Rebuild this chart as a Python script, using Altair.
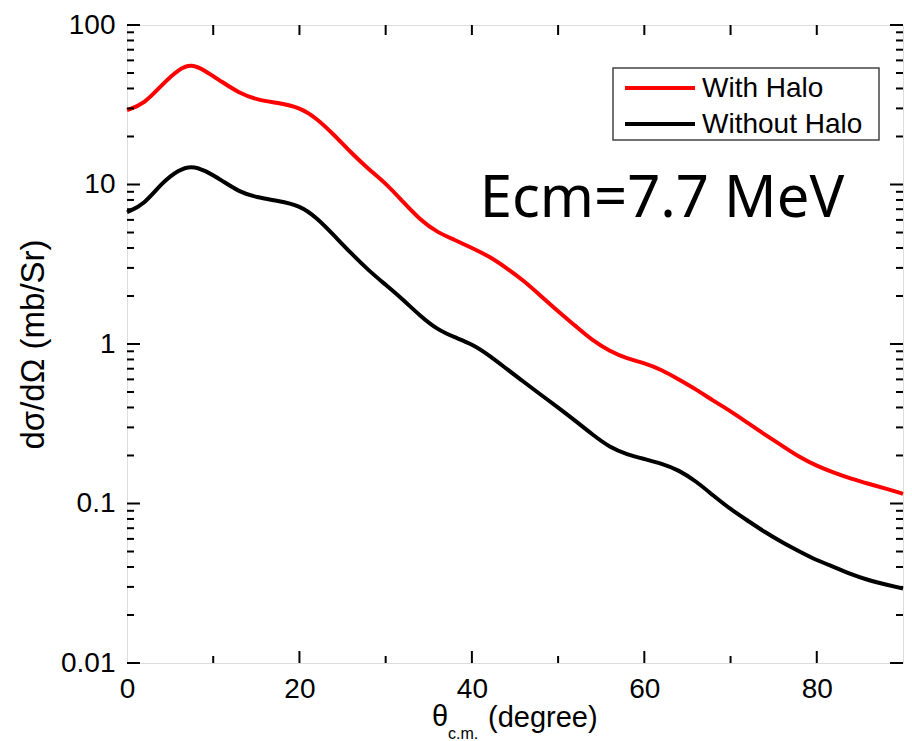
import altair as alt
import pandas as pd

# Angles (degrees, c.m.)
theta = [0, 2, 4, 6, 7.5, 9, 11, 13, 15, 17.5, 20, 22, 24, 26, 28, 30, 32, 34, 36, 38,
         40, 42, 44, 46, 48, 50, 52, 54, 56, 58, 60, 62, 64, 66, 68, 70, 72, 74, 76, 78,
         80, 82, 84, 86, 88, 90]

with_halo = [29.3, 32, 42, 53, 57, 52, 44, 37.5, 34, 32.5, 30.5, 26, 20.5, 15.8, 12.5, 10.2,
             7.8, 6.0, 5.0, 4.5, 4.0, 3.55, 3.0, 2.5, 2.0, 1.6, 1.3, 1.05, 0.9, 0.81,
             0.76, 0.69, 0.6, 0.52, 0.44, 0.38, 0.32, 0.27, 0.23, 0.195, 0.172, 0.156,
             0.143, 0.133, 0.124, 0.115]

without_halo = [6.7, 7.5, 10.2, 12.4, 13.1, 12.3, 10.6, 9.0, 8.3, 7.9, 7.4, 6.2, 4.8, 3.7,
                2.9, 2.35, 1.9, 1.5, 1.23, 1.1, 1.0, 0.85, 0.7, 0.58, 0.48, 0.4, 0.33,
                0.27, 0.225, 0.203, 0.19, 0.178, 0.162, 0.138, 0.112, 0.092, 0.078, 0.066,
                0.057, 0.05, 0.044, 0.04, 0.036, 0.033, 0.031, 0.0293]

series_names = ["With Halo", "Without Halo"]
series_colors = ["#ff0000", "#000000"]

y_major = [0.01, 0.1, 1, 10, 100]
y_minor = [m * d for d in [0.01, 0.1, 1, 10] for m in range(2, 10)]
x_major = [20, 40, 60, 80]
x_minor = [10, 30, 50, 70]

W, H = 776, 638

rows = []
for name, vals in zip(series_names, [with_halo, without_halo]):
    for t, v in zip(theta, vals):
        rows.append({"theta": t, "value": v, "series": name})
df = pd.DataFrame(rows)

xscale = alt.Scale(domain=[0, 90], nice=False, zero=False)
yscale = alt.Scale(type="log", domain=[0.01, 100], nice=False)

lines = alt.Chart(df).mark_line(strokeWidth=4, interpolate="basis").encode(
    x=alt.X("theta:Q", scale=xscale,
            axis=alt.Axis(title=None, values=[0, 20, 40, 60, 80], ticks=False, domain=False,
                          grid=False, labelFontSize=28, labelPadding=12, labelColor="#000",
                          labelFont="Liberation Sans", labelFlush=False)),
    y=alt.Y("value:Q", scale=yscale,
            axis=alt.Axis(title="dσ/dΩ (mb/Sr)", values=y_major, format="~g", ticks=False,
                          domain=False, grid=False, labelFontSize=28, labelPadding=12,
                          labelColor="#000", labelFont="Liberation Sans",
                          titleFont="Liberation Sans", titleFontSize=33,
                          titleFontWeight="normal", titleColor="#000", titlePadding=10)),
    color=alt.Color("series:N", scale=alt.Scale(domain=series_names, range=series_colors),
                    legend=None),
)

ymaj_df = pd.DataFrame({"v": y_major})
ymin_df = pd.DataFrame({"v": y_minor})
xmaj_df = pd.DataFrame({"v": x_major})
xmin_df = pd.DataFrame({"v": x_minor})

def ytick(data, length, side):
    if side == "left":
        xs = dict(x=alt.value(0), x2=alt.value(length))
    else:
        xs = dict(x=alt.value(W - length), x2=alt.value(W))
    return alt.Chart(data).mark_rule(color="black", strokeWidth=2).encode(
        y=alt.Y("v:Q", scale=yscale), **xs)

def xtick(data, length, side):
    if side == "bottom":
        ys = dict(y=alt.value(H - length), y2=alt.value(H))
    else:
        ys = dict(y=alt.value(0), y2=alt.value(length))
    return alt.Chart(data).mark_rule(color="black", strokeWidth=2).encode(
        x=alt.X("v:Q", scale=xscale), **ys)

ticks = [ytick(ymaj_df, 13, "left"), ytick(ymin_df, 7, "left"),
         ytick(ymaj_df, 13, "right"), ytick(ymin_df, 7, "right"),
         xtick(xmaj_df, 12, "bottom"), xtick(xmin_df, 7, "bottom"),
         xtick(xmaj_df, 10, "top"), xtick(xmin_df, 10, "top")]

# Legend (drawn as marks, box at top-right of the plot)
LX, LY = 486, 43
box = alt.Chart(pd.DataFrame({"a": [0]})).mark_rect(
    fill="white", stroke="#444", strokeWidth=1.5).encode(
    x=alt.value(LX), x2=alt.value(LX + 266), y=alt.value(LY), y2=alt.value(LY + 72))
legend_layers = [box]
for i, (name, col) in enumerate(zip(series_names, series_colors)):
    row_y = LY + 20 + 36 * i
    d = pd.DataFrame({"t": [name]})
    legend_layers.append(alt.Chart(d).mark_rule(color=col, strokeWidth=4).encode(
        x=alt.value(LX + 12), x2=alt.value(LX + 82), y=alt.value(row_y)))
    legend_layers.append(alt.Chart(d).mark_text(
        align="left", baseline="middle", fontSize=28, font="Liberation Sans",
        color="black").encode(x=alt.value(LX + 89), y=alt.value(row_y + 1), text="t:N"))

annot_df = pd.DataFrame({"x": [40.9], "y": [6.25], "t": ["Ecm=7.7 MeV"]})
annot = alt.Chart(annot_df).mark_text(align="left", baseline="alphabetic", fontSize=58,
                                      font="Noto Sans", color="black").encode(
    x=alt.X("x:Q", scale=xscale), y=alt.Y("y:Q", scale=yscale), text="t:N")

xt1 = alt.Chart(pd.DataFrame({"t": ["θ"]})).mark_text(
    align="left", baseline="middle", fontSize=29, font="Liberation Sans", color="black").encode(
    x=alt.value(305), y=alt.value(692), text="t:N")
xt2 = alt.Chart(pd.DataFrame({"t": ["c.m."]})).mark_text(
    align="left", baseline="middle", fontSize=16, font="Liberation Sans", color="black").encode(
    x=alt.value(321), y=alt.value(709), text="t:N")
xt3 = alt.Chart(pd.DataFrame({"t": ["(degree)"]})).mark_text(
    align="left", baseline="middle", fontSize=29, font="Liberation Sans", color="black").encode(
    x=alt.value(361), y=alt.value(693), text="t:N")

chart = alt.layer(lines, *ticks, *legend_layers, annot, xt1, xt2, xt3).properties(
    width=W, height=H,
    autosize=alt.AutoSizeParams(type="none"),
    padding={"left": 119, "top": 17, "right": 1, "bottom": 78},
).configure_view(stroke="black", strokeWidth=3).configure(background="white")

chart.save("out.html", embed_options={"renderer": "svg", "actions": False})
